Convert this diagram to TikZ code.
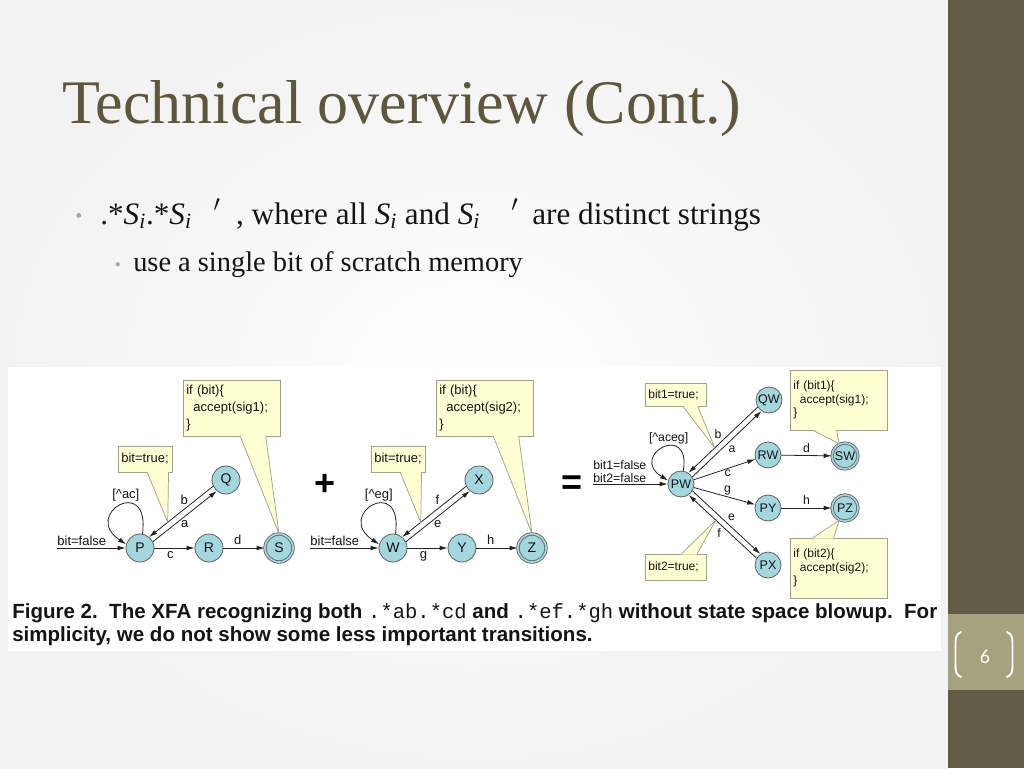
\documentclass[tikz,border=0pt]{standalone}
\usepackage{fontspec}
\setmainfont{Liberation Serif}
\setsansfont{Liberation Sans}
\setmonofont{Liberation Mono}
\newfontfamily\pagenumfont{Carlito}
\usetikzlibrary{arrows.meta,calc}
\definecolor{strip}{RGB}{98,92,70}
\definecolor{stripbox}{RGB}{166,162,128}
\definecolor{titlecol}{RGB}{94,87,62}
\definecolor{stateblue}{RGB}{164,214,222}
\definecolor{statedraw}{RGB}{95,95,95}
\definecolor{notefill}{RGB}{255,255,212}
\definecolor{notedraw}{RGB}{160,160,140}
\definecolor{edgecol}{RGB}{35,35,35}
\definecolor{bulletgray}{RGB}{165,165,165}
\definecolor{textcol}{RGB}{20,20,20}
\newcommand\calloutptr[4]{%
  \fill[notefill] ($(#1)+(0,#4)$) -- (#3) -- ($(#2)+(0,#4)$) -- cycle;
  \draw[notedraw,line width=0.55pt] (#1) -- (#3) -- (#2);}
\newcommand\Sisub{\textit{S}\textsubscript{\textit{i}}}
\begin{document}
\begin{tikzpicture}[x=0.75pt,y=-0.75pt,
  stateL/.style={circle,draw=statedraw,fill=stateblue,line width=0.6pt,minimum size=21pt,inner sep=0pt,font=\sffamily\fontsize{10.5}{10.5}\selectfont,text=textcol},
  stateR/.style={stateL,minimum size=19.5pt,font=\sffamily\fontsize{9.4}{9.4}\selectfont},
  acceptL/.style={stateL,double=stateblue,double distance=1.3pt},
  acceptR/.style={stateR,double=stateblue,double distance=1.2pt},
  edge/.style={draw=edgecol,line width=0.6pt,-{Latex[length=6pt,width=3.6pt]}},
  lbl/.style={font=\sffamily\fontsize{9.75}{10}\selectfont,inner sep=1pt,text=textcol},
  lblR/.style={font=\sffamily\fontsize{9.2}{9.2}\selectfont,inner sep=1pt,text=textcol},
  noteL/.style={draw=notedraw,fill=notefill,line width=0.55pt,inner ysep=0pt,inner xsep=2.5pt,font=\sffamily\fontsize{9.75}{12.5}\selectfont,align=left,text=textcol},
  noteR/.style={noteL,font=\sffamily\fontsize{9}{10}\selectfont},
  opsym/.style={font=\sffamily\bfseries\fontsize{27}{27}\selectfont,text=black,inner sep=0pt},
  captxt/.style={anchor=base west,inner sep=0pt,font=\sffamily\bfseries\fontsize{15.4}{17}\selectfont,text=textcol},
]
% background
\useasboundingbox (0,0) rectangle (1024,768);
\shade[inner color=white,outer color=black!5] (0,0) rectangle (948,768);
\fill[strip] (948,0) rectangle (1024,768);
\fill[stripbox] (948,614) rectangle (1024,690);
\draw[white,line width=1.4pt,line cap=round] (961,632) .. controls (956,634) and (955.5,638) .. (955.5,644) -- (955.5,665) .. controls (955.5,671) and (956,675) .. (961,677);
\draw[white,line width=1.4pt,line cap=round] (1007,632) .. controls (1012,634) and (1012.5,638) .. (1012.5,644) -- (1012.5,665) .. controls (1012.5,671) and (1012,675) .. (1007,677);
\node[text=white,font=\pagenumfont\fontsize{15}{15}\selectfont] (pnum) at (985,657) {6};
% title
\node[anchor=base west,inner sep=0pt,text=titlecol,font=\fontsize{46.5}{46.5}\selectfont] (title) at (62,123) {Technical overview (Cont.)};
% bullets
\node[anchor=base,inner sep=0pt,text=bulletgray,font=\fontsize{15}{15}\selectfont] (b1) at (79,222) {•};
\node[anchor=base west,inner sep=0pt,text=textcol,font=\fontsize{23.4}{24}\selectfont] (t1) at (100,224)
  {.*\Sisub.*\Sisub\hspace{0.7em}$^{\prime}$\hspace{0.5em}, where all \Sisub{} and \Sisub\hspace{1.0em}$^{\prime}$\hspace{0.2em} are distinct strings};
\node[anchor=base,inner sep=0pt,text=bulletgray,font=\fontsize{13}{13}\selectfont] (b2) at (118,270) {•};
\node[anchor=base west,inner sep=0pt,text=textcol,font=\fontsize{21.3}{22}\selectfont] (t2) at (133,271) {use a single bit of scratch memory};
% figure area
\fill[white] (8,367) rectangle (941,651);

% ---------- left automaton
\node[stateL] (P) at (140,548) {P};
\node[stateL] (Q) at (226,480) {Q};
\node[stateL] (R) at (209,548) {R};
\node[acceptL] (S) at (279,548) {S};
\coordinate (inP) at (57,548);
\draw[edge] (inP) -- (P) node[lbl,pos=0,anchor=south west,inner xsep=0pt,inner ysep=1.5pt] {bit=false};
\draw[edge] (P) -- (R) node[lbl,pos=0.4,below=1pt] {c};
\draw[edge] (R) -- (S) node[lbl,pos=0.35,above=1pt] {d};
\draw[edge] (Q.206) -- (P.50) node[lbl,pos=0.45,above=2pt] {b};
\draw[edge] (P.26) -- (Q.230) node[lbl,pos=0.5,below=2pt] {a};
\draw[edge] (P.80) .. controls +(8,-60) and +(-45,-30) .. (P.165) node[lbl,pos=0.42,above=0pt] {[\textasciicircum ac]};
\node[noteL,minimum width=72.75pt,minimum height=42pt,text width=67.75pt] (n1) at (231.5,408) {if (bit)\{\\\hspace*{0.55em}accept(sig1);\\\}};
\coordinate (n1a) at ($(n1.south west)!0.59!(n1.south east)$);
\coordinate (n1b) at ($(n1.south west)!0.85!(n1.south east)$);
\calloutptr{n1a}{n1b}{S.north}{-1}
\node[noteL,minimum width=40.5pt,minimum height=19.5pt,text width=35.5pt] (n2) at (145,459) {bit=true;};
\coordinate (n2a) at ($(n2.south west)!0.54!(n2.south east)$);
\coordinate (n2b) at ($(n2.south west)!0.93!(n2.south east)$);
\coordinate (n2t) at ($(Q.206)!0.71!(P.50)$);
\calloutptr{n2a}{n2b}{n2t}{-1}

\node[opsym] (plus) at (325,485) {+};

% ---------- middle automaton
\node[stateL] (W) at (393,548) {W};
\node[stateL] (X) at (479,480) {X};
\node[stateL] (Y) at (462,548) {Y};
\node[acceptL] (Z) at (532,548) {Z};
\coordinate (inW) at (310,548);
\draw[edge] (inW) -- (W) node[lbl,pos=0,anchor=south west,inner xsep=0pt,inner ysep=1.5pt] {bit=false};
\draw[edge] (W) -- (Y) node[lbl,pos=0.4,below=1pt] {g};
\draw[edge] (Y) -- (Z) node[lbl,pos=0.35,above=1pt] {h};
\draw[edge] (X.206) -- (W.50) node[lbl,pos=0.45,above=2pt] {f};
\draw[edge] (W.26) -- (X.230) node[lbl,pos=0.5,below=2pt] {e};
\draw[edge] (W.80) .. controls +(8,-60) and +(-45,-30) .. (W.165) node[lbl,pos=0.42,above=0pt] {[\textasciicircum eg]};
\node[noteL,minimum width=72.75pt,minimum height=42pt,text width=67.75pt] (n3) at (484.5,408) {if (bit)\{\\\hspace*{0.55em}accept(sig2);\\\}};
\coordinate (n3a) at ($(n3.south west)!0.59!(n3.south east)$);
\coordinate (n3b) at ($(n3.south west)!0.85!(n3.south east)$);
\calloutptr{n3a}{n3b}{Z.north}{-1}
\node[noteL,minimum width=40.5pt,minimum height=19.5pt,text width=35.5pt] (n4) at (398,459) {bit=true;};
\coordinate (n4a) at ($(n4.south west)!0.54!(n4.south east)$);
\coordinate (n4b) at ($(n4.south west)!0.93!(n4.south east)$);
\coordinate (n4t) at ($(X.206)!0.71!(W.50)$);
\calloutptr{n4a}{n4b}{n4t}{-1}

\node[opsym] (eq) at (572,485) {=};

% ---------- right automaton
\node[stateR] (PW) at (681,484) {PW};
\node[stateR] (QW) at (769,400) {QW};
\node[stateR] (RW) at (768,455) {RW};
\node[stateR] (PY) at (768,508) {PY};
\node[stateR] (PX) at (768,565) {PX};
\node[acceptR] (SW) at (845,456) {SW};
\node[acceptR] (PZ) at (845,508) {PZ};
\coordinate (inPW) at (593,484);
\draw[edge] (inPW) -- (PW) node[lblR,pos=0,anchor=south west,inner xsep=0pt,inner ysep=1pt,align=left,font=\sffamily\fontsize{9.2}{9.75}\selectfont] {bit1=false\\bit2=false};
\draw[edge] (QW.212) -- (PW.56) node[lblR,pos=0.5,above left=0pt] {b};
\draw[edge] (PW.32) -- (QW.236) node[lblR,pos=0.5,below right=0pt] {a};
\draw[edge] (PW) -- (RW) node[lblR,pos=0.55,below=0pt] {c};
\draw[edge] (PW) -- (PY) node[lblR,pos=0.55,above=0pt] {g};
\draw[edge] (PW.-31) -- (PX.125) node[lblR,pos=0.5,above right=0pt] {e};
\draw[edge] (PX.149) -- (PW.-55) node[lblR,pos=0.5,below left=0pt] {f};
\draw[edge] (RW) -- (SW) node[lblR,midway,above=1pt] {d};
\draw[edge] (PY) -- (PZ) node[lblR,midway,above=1pt] {h};
\draw[edge] (PW.80) .. controls +(8,-50) and +(-40,-25) .. (PW.165) node[lblR,pos=0.42,above=0pt] {[\textasciicircum aceg]};
\node[noteR,minimum width=45.75pt,minimum height=17.25pt,text width=40.75pt] (n5) at (675.5,394.5) {bit1=true;};
\coordinate (n5a) at ($(n5.south west)!0.62!(n5.south east)$);
\coordinate (n5b) at ($(n5.south west)!0.86!(n5.south east)$);
\coordinate (n5t) at ($(QW.212)!0.62!(PW.56)$);
\calloutptr{n5a}{n5b}{n5t}{-1}
\node[noteR,minimum width=45.75pt,minimum height=19.5pt,text width=40.75pt] (n6) at (675.5,567) {bit2=true;};
\coordinate (n6a) at ($(n6.north west)!0.6!(n6.north east)$);
\coordinate (n6b) at ($(n6.north west)!0.85!(n6.north east)$);
\coordinate (n6t) at ($(PX.149)!0.6!(PW.-55)$);
\calloutptr{n6a}{n6b}{n6t}{1}
\node[noteR,minimum width=72.75pt,minimum height=45pt,text width=67.75pt] (n7) at (838.5,400) {if (bit1)\{\\\hspace*{0.55em}accept(sig1);\\\}};
\coordinate (n7a) at ($(n7.south west)!0.24!(n7.south east)$);
\coordinate (n7b) at ($(n7.south west)!0.48!(n7.south east)$);
\calloutptr{n7a}{n7b}{SW.115}{-1}
\node[noteR,minimum width=72.75pt,minimum height=45pt,text width=67.75pt] (n8) at (838.5,568) {if (bit2)\{\\\hspace*{0.55em}accept(sig2);\\\}};
\coordinate (n8a) at ($(n8.north west)!0.24!(n8.north east)$);
\coordinate (n8b) at ($(n8.north west)!0.45!(n8.north east)$);
\calloutptr{n8a}{n8b}{PZ.245}{1}

% caption
\node[captxt] (cap1) at (12,618)
  {Figure 2.\ \ The XFA recognizing both {\mdseries\ttfamily .*ab.*cd} and {\mdseries\ttfamily .*ef.*gh} without state space blowup.\ \ For};
\node[captxt] (cap2) at (12,641)
  {simplicity, we do not show some less important transitions.};
\end{tikzpicture}
\end{document}
